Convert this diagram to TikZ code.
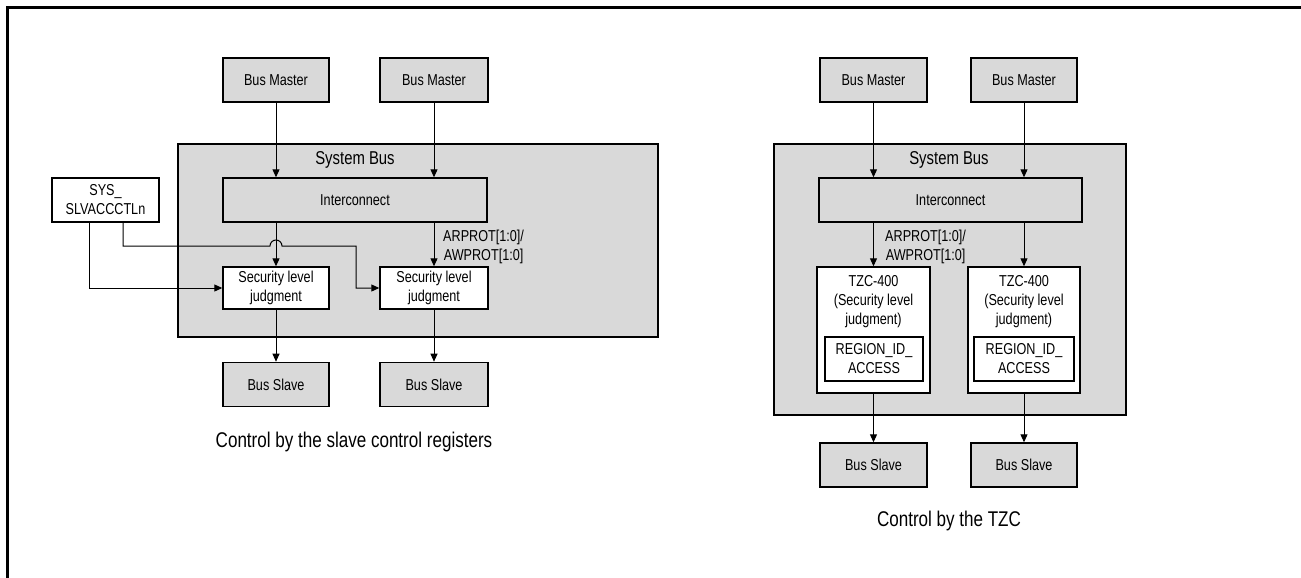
\documentclass[tikz,border=0pt]{standalone}
\usepackage{fontspec}
\setmainfont{Liberation Sans}[FakeStretch=0.8]
\usepackage{tikz}
\usetikzlibrary{arrows.meta}
\usetikzlibrary{positioning}
\definecolor{busgray}{HTML}{D9D9D9}
\newcommand{\mSmall}{\fontsize{15.8}{19}\selectfont}
\newcommand{\mBig}{\fontsize{18.6}{22}\selectfont}
\newcommand{\mCap}{\fontsize{21.3}{25}\selectfont}
\newcommand{\mProt}{ARPROT[1:0]/\\AWPROT[1:0]}
\newcommand{\mJudge}{Security level\\judgment}
\newcommand{\mTzc}{TZC-400\\(Security level\\judgment)}
\newcommand{\mRegion}{REGION\_ID\_\\ACCESS}
\newcommand{\msg}[3]{\draw[arr] (#1.south |- #2.south) -- (#1.south |- #3.north)}

\begin{document}
\begin{tikzpicture}[x=1pt,y=-1pt,
    box/.style={draw,line width=1.4pt,fill=busgray,inner sep=0pt,align=center,font=\mSmall,minimum height=44},
    whitebox/.style={box,fill=white},
    bus/.style={draw,line width=1.6pt,fill=busgray},
    txt/.style={inner sep=0pt,align=center,font=\mSmall},
    arr/.style={-{Triangle[length=8pt,width=7pt]},line width=1pt}]
    \useasboundingbox (0,0) rectangle (1301,578);
    \draw [line width=2.5pt] (7.5,578) -- (7.5,7.5) -- (1301,7.5);
    % slave control registers
    \node[box,minimum width=106] (bmA) at (276,80) {Bus Master};
    \node[box,minimum width=108] (bmB) at (434,80) {Bus Master};
    \draw[bus] (178,144) rectangle (658,337);
    \node[box,minimum width=264] (icA) at (355,200) {Interconnect};
    \node[txt,font=\mBig] (sbA) at (355,160) {System Bus};
    \node[whitebox,minimum width=107] (sys) at (105.5,200) {SYS\_\\SLVACCCTLn};
    \node[whitebox,minimum width=106,minimum height=42] (sljA) at (276,288) {\mJudge};
    \node[whitebox,minimum width=108,minimum height=42] (sljB) at (434,288) {\mJudge};
    \node[box,minimum width=106,below=52pt of sljA] (bsA) {Bus Slave};
    \node[box,minimum width=108,below=52pt of sljB] (bsB) {Bus Slave};
    \node[txt,font=\mCap] (capA) at (354,442) {Control by the slave control registers};
    \node[txt,anchor=west] (protA) at (443,247) {\mProt};
    \msg{bmA}{bmA}{icA};
    \msg{bmB}{bmB}{icA};
    \msg{sljA}{icA}{sljA};
    \msg{sljB}{icA}{sljB};
    \msg{sljA}{sljA}{bsA};
    \msg{sljB}{sljB}{bsB};
    \coordinate (sysL) at ([xshift=-16.5pt]sys.south);
    \coordinate (sysR) at ([xshift=17.5pt]sys.south);
    \coordinate (hop) at ([xshift=-6pt]sljA.north |- 0,246);
    \coordinate (turn) at (356,246);
    \draw[arr] (sysL) |- (sljA.west);
    \draw[arr] (sysR) |- (hop) arc[start angle=180,end angle=360,radius=6] -- (turn) |- (sljB.west);
    % TZC
    \node[box,minimum width=107] (bmC) at (873.5,80) {Bus Master};
    \node[box,minimum width=106] (bmD) at (1024,80) {Bus Master};
    \draw[bus] (774,144) rectangle (1126,415);
    \node[box,minimum width=263] (icB) at (950.5,200) {Interconnect};
    \node[txt,font=\mBig] (sbB) at (949,160) {System Bus};
    \node[whitebox,minimum width=113,minimum height=126] (tzcA) at (873.5,330) {};
    \node[whitebox,minimum width=112,minimum height=126] (tzcB) at (1024,330) {};
    \node[txt,below=9pt of tzcA.north] (lblA) {\mTzc};
    \node[txt,below=9pt of tzcB.north] (lblB) {\mTzc};
    \node[whitebox,minimum width=98] (regA) at (874,359) {\mRegion};
    \node[whitebox,minimum width=100] (regB) at (1024,359) {\mRegion};
    \node[box,minimum width=107] (bsC) at (873.5,465) {Bus Slave};
    \node[box,minimum width=106] (bsD) at (1024,465) {Bus Slave};
    \node[txt,font=\mCap] (capB) at (949,521) {Control by the TZC};
    \node[txt,anchor=west] (protB) at (885,247) {\mProt};
    \msg{bmC}{bmC}{icB};
    \msg{bmD}{bmD}{icB};
    \msg{tzcA}{icB}{tzcA};
    \msg{tzcB}{icB}{tzcB};
    \msg{tzcA}{tzcA}{bsC};
    \msg{tzcB}{tzcB}{bsD};
\end{tikzpicture}
\end{document}
